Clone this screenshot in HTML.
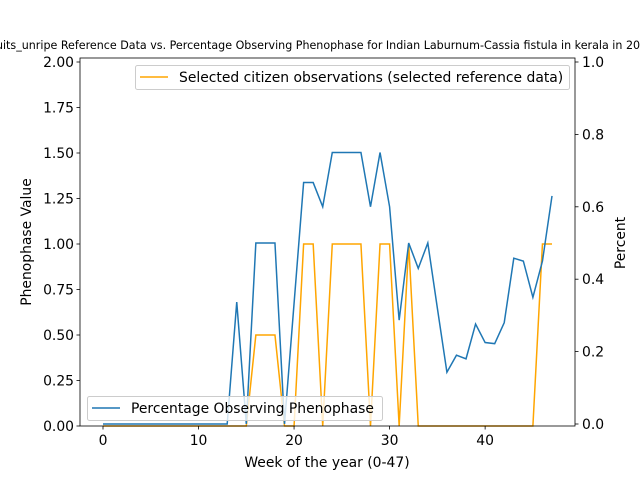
<!DOCTYPE html>
<html><head><meta charset="utf-8"><style>
body{margin:0;background:#fff}
svg text{font-family:"DejaVu Sans","Liberation Sans",sans-serif;fill:#000}
</style></head><body>
<svg id="c" width="640" height="480" xmlns="http://www.w3.org/2000/svg">
<rect width="640" height="480" fill="#fff"/>
<text x="320" y="49" font-size="11.1" text-anchor="middle">Fruits_unripe Reference Data vs. Percentage Observing Phenophase for Indian Laburnum-Cassia fistula in kerala in 2022</text>
<g id="marks"></g>
<g id="axes"></g>
</svg>
<script>
const weeks = [];
for (let i = 0; i < 48; i++) weeks.push(i);
const refValues = [0,0,0,0,0,0,0,0,0,0,0,0,0,0,0,0,0.5,0.5,0.5,0,0,1,1,0,1,1,1,1,0,1,1,0,1,0,0,0,0,0,0,0,0,0,0,0,0,0,1,1];
const pctValues = [0,0,0,0,0,0,0,0,0,0,0,0,0,0,0.337,0,0.5,0.5,0.5,0,0.333,0.667,0.667,0.6,0.75,0.75,0.75,0.75,0.6,0.75,0.6,0.287,0.5,0.43,0.5,0.32,0.143,0.19,0.18,0.276,0.225,0.222,0.28,0.458,0.45,0.35,0.45,0.63];
const xTicks = [0,10,20,30,40];
const leftTicks = [0,0.25,0.5,0.75,1.0,1.25,1.5,1.75,2.0];
const rightTicks = [0,0.2,0.4,0.6,0.8,1.0];

const L=80,R=575,T=58,B=426;
const FS=13.9;
const xS = v => 103 + (v)*(552-103)/47;
const yL = v => 426 - v*182;
const yR = v => 424 - v*362;
const NS="http://www.w3.org/2000/svg";
const marks=document.getElementById('marks');
const axes=document.getElementById('axes');
function mk(tag,attrs,parent){const e=document.createElementNS(NS,tag);for(const k in attrs)e.setAttribute(k,attrs[k]);parent.appendChild(e);return e;}

let p1=weeks.map((w,i)=>xS(w)+','+yL(refValues[i])).join(' ');
const ol=mk('polyline',{points:p1,fill:'none',stroke:'#ffa500','stroke-width':1.5},marks);


let p2=weeks.map((w,i)=>xS(w)+','+yR(pctValues[i])).join(' ');
const bl=mk('polyline',{points:p2,fill:'none',stroke:'#1f77b4','stroke-width':1.5},marks);



const fr=mk('rect',{x:L,y:T,width:R-L,height:B-T,fill:'none',stroke:'#000','stroke-width':0.8},axes);



xTicks.forEach(v=>{const x=xS(v);
 mk('line',{x1:x,x2:x,y1:B,y2:B+3.5,stroke:'#000','stroke-width':0.8},axes);
 const t=mk('text',{x:x,y:B+19,'font-size':FS,'text-anchor':'middle'},axes);t.textContent=v;
 
 });
leftTicks.forEach(v=>{const y=yL(v);
 mk('line',{x1:L-3.5,x2:L,y1:y,y2:y,stroke:'#000','stroke-width':0.8},axes);
 const t=mk('text',{x:L-6,y:y+5,'font-size':FS,'text-anchor':'end'},axes);t.textContent=v.toFixed(2);
 
 });
rightTicks.forEach(v=>{const y=yR(v);
 mk('line',{x1:R,x2:R+3.5,y1:y,y2:y,stroke:'#000','stroke-width':0.8},axes);
 const t=mk('text',{x:R+7,y:y+5,'font-size':FS},axes);t.textContent=v.toFixed(1);
 
 });

let t=mk('text',{x:327,y:467,'font-size':FS,'text-anchor':'middle'},axes);t.textContent='Week of the year (0-47)';


t=mk('text',{x:0,y:0,'font-size':FS,'text-anchor':'middle',transform:'translate(31,242) rotate(-90)'},axes);t.textContent='Phenophase Value';


t=mk('text',{x:0,y:0,'font-size':FS,'text-anchor':'middle',transform:'translate(625,243) rotate(-90)'},axes);t.textContent='Percent';



let g=mk('g',{},axes);


mk('rect',{x:135.5,y:65.5,width:434,height:24,rx:2,fill:'#fff','fill-opacity':0.8,stroke:'#ccc'},g);
mk('line',{x1:140,x2:168,y1:77,y2:77,stroke:'#ffa500','stroke-width':1.5},g);
t=mk('text',{x:179,y:82,'font-size':FS},g);t.textContent='Selected citizen observations (selected reference data)';

g=mk('g',{},axes);


mk('rect',{x:87.5,y:396.5,width:295,height:24,rx:2,fill:'#fff','fill-opacity':0.8,stroke:'#ccc'},g);
mk('line',{x1:92,x2:120,y1:408,y2:408,stroke:'#1f77b4','stroke-width':1.5},g);
t=mk('text',{x:131,y:413,'font-size':FS},g);t.textContent='Percentage Observing Phenophase';
</script>
</body></html>
